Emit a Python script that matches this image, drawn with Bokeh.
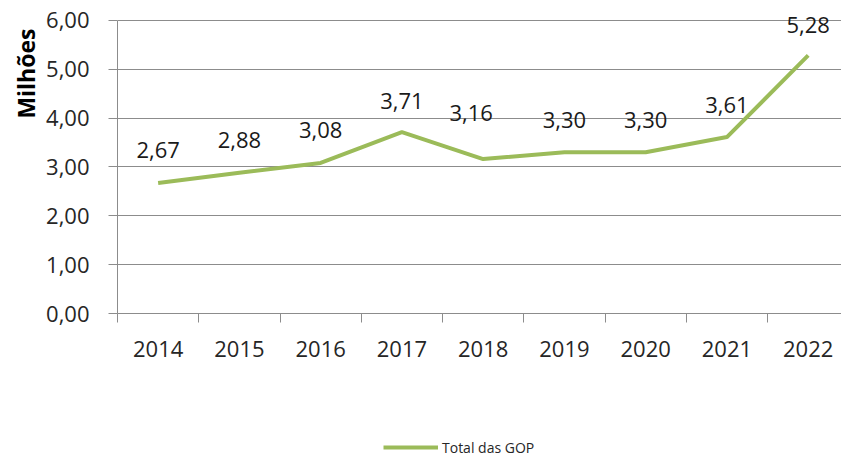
from bokeh.plotting import figure
from bokeh.layouts import column
from bokeh.models import (ColumnDataSource, FixedTicker, LabelSet, Legend,
                          LegendItem, Range1d, LinearAxis, Grid, Title)
from bokeh.core.properties import value
from bokeh.embed import file_html
from bokeh.resources import INLINE

years = ["2014", "2015", "2016", "2017", "2018", "2019", "2020", "2021", "2022"]
values = [2.67, 2.88, 3.08, 3.71, 3.16, 3.30, 3.30, 3.61, 5.28]
y_ticks = [0, 1, 2, 3, 4, 5, 6]
series_name = "Total das GOP"
y_title = "Milhões"

def fmt(v):
    return f"{v:.2f}".replace(".", ",")

FONT = "Open Sans"
TXT = "#262626"
GRID = "#8c8c8c"
GREEN = "#9BBB59"

xs = list(range(len(years)))
# label nudges (screen px), as in the original
dx = [0, 0, 0, 0, -12, 0, 0, 0, 0]
dy = [33, 33, 33, 31, 46, 32, 32, 32, 30]
src = ColumnDataSource(dict(x=xs, y=values, lab=[fmt(v) for v in values], dx=dx, dy=dy))

p = figure(width=841, height=390, output_backend="svg", toolbar_location=None,
           x_range=Range1d(-0.5, 8.41), y_range=Range1d(0, 6.2),
           min_border_left=117, min_border_right=0, min_border_top=10,
           min_border_bottom=77, x_axis_type=None, y_axis_type=None)
p.outline_line_color = None
p.background_fill_color = "white"

yaxis = LinearAxis(ticker=FixedTicker(ticks=y_ticks), bounds=(0, 6),
                   major_label_overrides={t: fmt(t) for t in y_ticks})
yaxis.axis_line_color = GRID
yaxis.major_tick_line_color = GRID
yaxis.major_tick_out = 9
yaxis.major_tick_in = 0
yaxis.minor_tick_line_color = None
yaxis.major_label_standoff = 19
yaxis.major_label_text_font = FONT
yaxis.major_label_text_font_size = "22px"
yaxis.major_label_text_color = TXT
p.add_layout(yaxis, "left")

xaxis = LinearAxis(ticker=FixedTicker(ticks=xs, minor_ticks=[i - 0.5 for i in range(len(years))]),
                   major_label_overrides={i: y for i, y in enumerate(years)})
xaxis.axis_line_color = GRID
xaxis.major_tick_line_color = None
xaxis.major_tick_out = 0
xaxis.major_tick_in = 0
xaxis.minor_tick_line_color = GRID
xaxis.minor_tick_out = 9
xaxis.minor_tick_in = 0
xaxis.major_label_standoff = 18
xaxis.major_label_text_font = FONT
xaxis.major_label_text_font_size = "22px"
xaxis.major_label_text_color = TXT
p.add_layout(xaxis, "below")

p.add_layout(Grid(dimension=1, ticker=yaxis.ticker, grid_line_color=GRID, grid_line_width=1))

r = p.line("x", "y", source=src, line_color=GREEN, line_width=4, line_join="round")

labels = LabelSet(x="x", y="y", text="lab", source=src, x_offset="dx", y_offset="dy",
                  text_align="center", text_baseline="middle",
                  text_font=value(FONT), text_font_size=value("22px"), text_color="#1a1a1a")
p.add_layout(labels)

ttl = Title(text=y_title, align="right", offset=18, standoff=4, text_font=FONT,
            text_font_size="23px", text_font_style="bold", text_color="#000000")
p.add_layout(ttl, "left")

# legend strip below the chart
q = figure(width=841, height=67, output_backend="svg", toolbar_location=None,
           x_range=Range1d(-0.5, 8.41), y_range=Range1d(100, 101),
           min_border=0, x_axis_type=None, y_axis_type=None)
q.outline_line_color = None
q.xgrid.visible = False
q.ygrid.visible = False
r2 = q.line("x", "y", source=src, line_color=GREEN, line_width=4)

legend = Legend(items=[LegendItem(label=series_name, renderers=[r2])],
                location=(266, 0), orientation="horizontal")
legend.border_line_color = None
legend.background_fill_alpha = 0
legend.padding = 0
legend.margin = 0
legend.spacing = 0
legend.glyph_width = 55
legend.glyph_height = 20
legend.label_height = 20
legend.label_standoff = 4
legend.label_text_font = FONT
legend.label_text_font_size = "14px"
legend.label_text_color = TXT
q.add_layout(legend, "center")

layout = column(p, q, spacing=0)
open("out.html", "w").write(file_html(layout, INLINE))
